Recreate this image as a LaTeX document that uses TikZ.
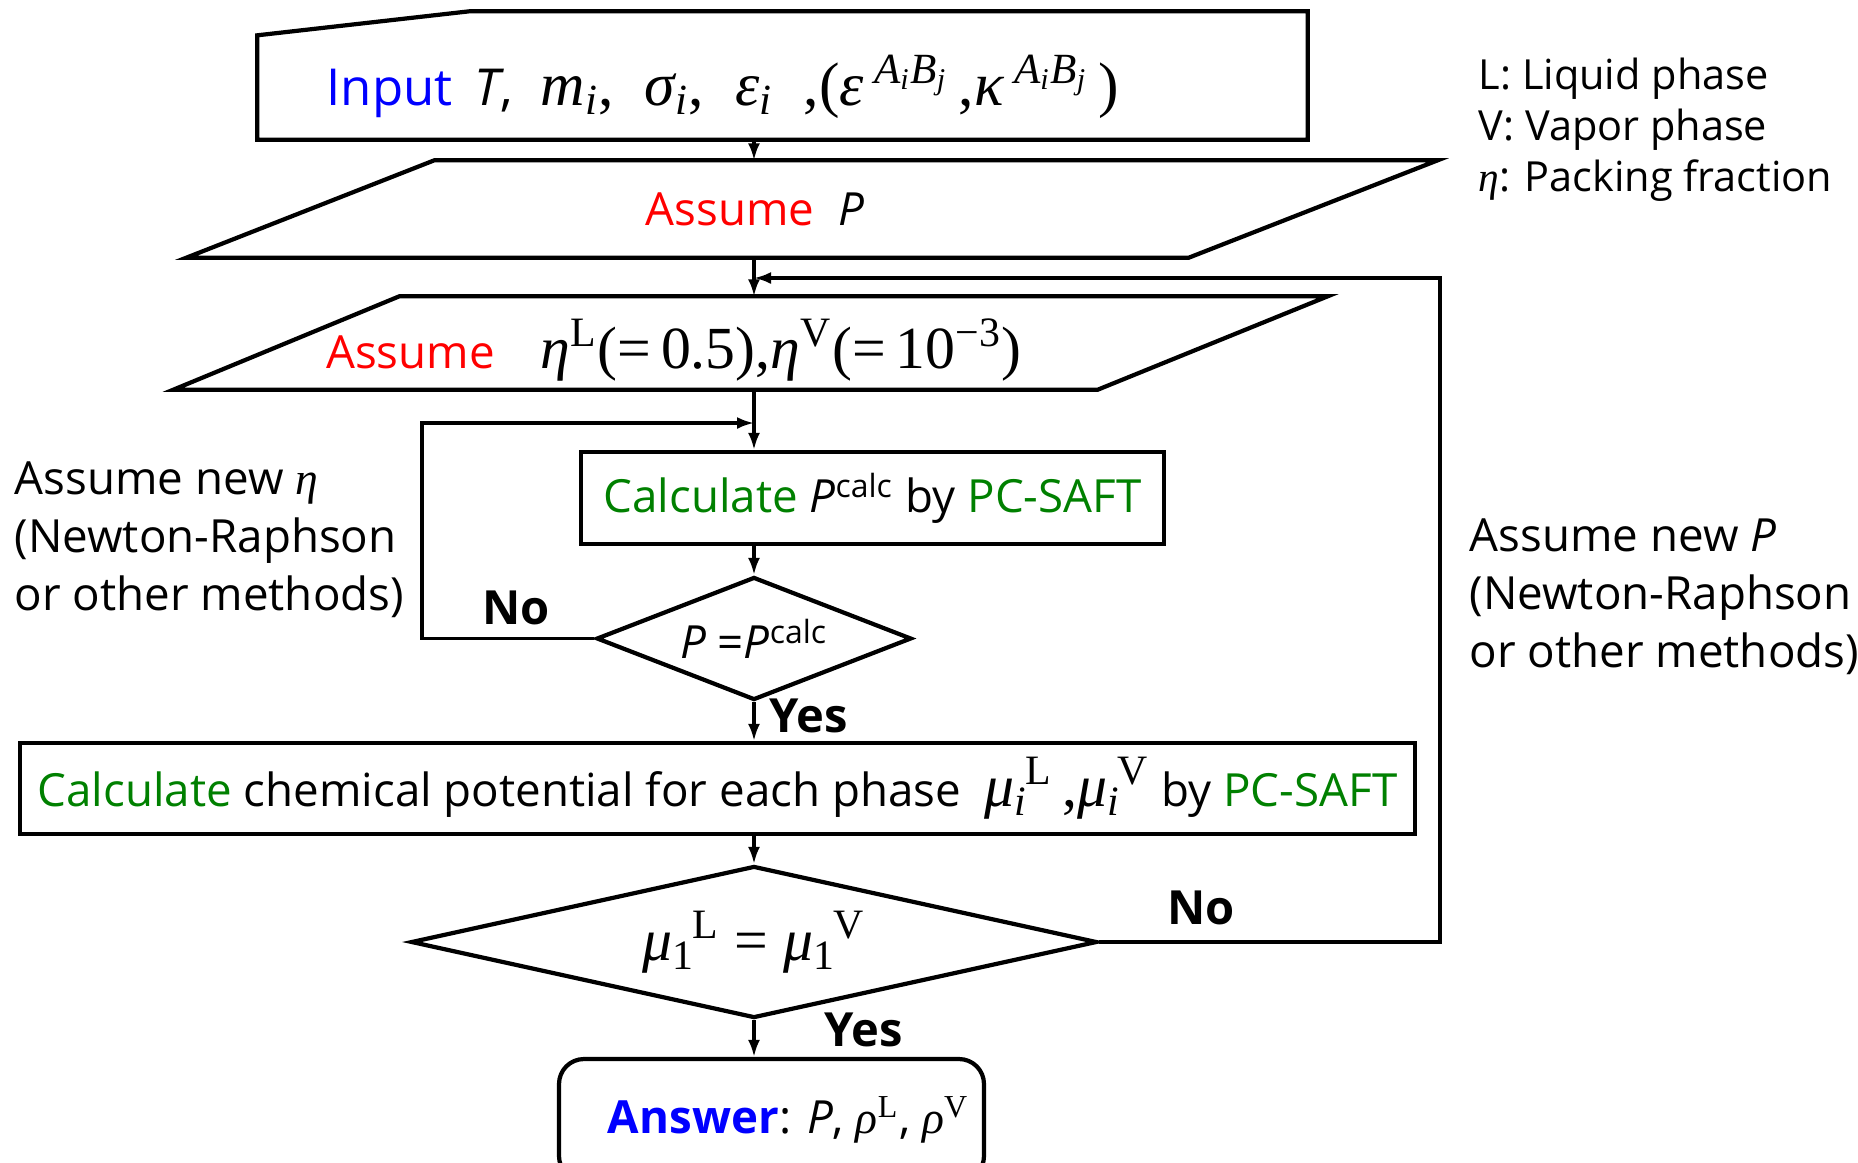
\documentclass[tikz,border=0pt]{standalone}
\usepackage{fontspec}
\setmainfont{Open Sans}
\newfontfamily\tms{Liberation Serif}
\usetikzlibrary{shapes.geometric,arrows.meta,positioning}

\definecolor{inblue}{RGB}{0,0,255}
\definecolor{asred}{RGB}{255,0,0}
\definecolor{calcgreen}{RGB}{0,128,0}

% math-like pieces in Times
\newcommand{\mi}[1]{{\itshape #1}}
\newcommand{\supsub}[2]{\textsubscript{#2}\kern-0.05em\textsuperscript{#1}}
\newcommand{\assoc}{\textsuperscript{\itshape A\textsubscript{i}B\textsubscript{j}}}
\newcommand{\bigmath}{\tms\fontsize{17}{20}\selectfont}

\tikzset{
  shapeline/.style={line width=1.2pt},
  conn/.style={line width=0.9pt},
  arr/.style={conn, -{Latex[length=0.17cm, width=0.12cm]}},
  txt/.style={inner sep=0pt, font=\fontsize{13}{16}\selectfont},
  frame/.style={rectangle, draw=none, inner sep=0pt},
  procbox/.style={rectangle, draw, shapeline, inner sep=0pt, font=\fontsize{13}{16}\selectfont},
  decision/.style={diamond, draw, shapeline, inner sep=0pt, font=\fontsize{13}{16}\selectfont},
  answerbox/.style={rectangle, rounded corners=0.25cm, draw, shapeline, inner sep=0pt, font=\fontsize{13}{16}\selectfont},
  yesno/.style={inner sep=0pt, font=\fontsize{13.4}{16}\selectfont\bfseries},
}

\begin{document}
\begin{tikzpicture}

\useasboundingbox (0,0) rectangle (18.58,-11.62);
\coordinate (spine) at (7.54,0);

% input
\node[frame, minimum width=10.49cm, minimum height=1.27cm] (inbox) at (7.825,-0.755) {};
\draw[shapeline] ([yshift=-0.24cm]inbox.north west) -- ([xshift=2.12cm]inbox.north west) -- (inbox.north east) -- (inbox.south east) -- (inbox.south west) -- cycle;
\node[txt, anchor=west] (intxt) at (3.26,-0.87) {{\fontsize{14.5}{18}\selectfont\textcolor{inblue}{Input}\hspace{0.22cm}\textit{T},}\hspace{0.28cm}{\tms\fontsize{17.5}{22}\selectfont\mi{m}\textsubscript{\itshape i},\ \ \mi{σ}\textsubscript{\itshape i},\ \ \mi{ε}\textsubscript{\itshape i}\ \ ,(\mi{ε}\,\assoc\,,\mi{κ}\,\assoc\,)}};

% assume P
\node[frame, minimum width=12.50cm, minimum height=0.96cm] (par1) at (8.12,-2.09) {};
\draw[shapeline] ([xshift=2.48cm]par1.north west) -- (par1.north east) -- ([xshift=-2.49cm]par1.south east) -- (par1.south west) -- cycle;
\node[txt] (par1txt) at (7.55,-2.09) {\textcolor{asred}{Assume}\ \ \textit{P}};

% assume eta
\node[frame, minimum width=11.53cm, minimum height=0.92cm] (par2) at (7.505,-3.43) {};
\draw[shapeline] ([xshift=2.26cm]par2.north west) -- (par2.north east) -- ([xshift=-2.30cm]par2.south east) -- (par2.south west) -- cycle;
\node[txt] (par2txt) at (6.74,-3.50) {\textcolor{asred}{Assume}\quad{\bigmath\mi{η}\textsuperscript{L}(=\,0.5),\mi{η}\textsuperscript{V}(=\,10\textsuperscript{−3})}};

\node[procbox, minimum width=5.83cm, minimum height=0.92cm] (calcp) at (8.725,-4.98) {\textcolor{calcgreen}{Calculate} \textit{P}\textsuperscript{calc} by \textcolor{calcgreen}{PC-SAFT}};
\node[decision, aspect=2.56, minimum width=3.15cm, minimum height=1.23cm] (chk1) at (7.54,-6.385) {\textit{P} =\textit{P}\textsuperscript{calc}};
\node[procbox, minimum width=13.95cm, minimum height=0.91cm] (calcmu) at (7.175,-7.885) {\textcolor{calcgreen}{Calculate} chemical potential for each phase \ {\bigmath\mi{μ}\supsub{L}{\itshape i}\,,\mi{μ}\supsub{V}{\itshape i}} by \textcolor{calcgreen}{PC-SAFT}};
\node[decision, aspect=4.5, minimum width=6.86cm, minimum height=1.52cm] (chk2) at (7.54,-9.42) {{\bigmath\mi{μ}\supsub{L}{1}\ = \mi{μ}\supsub{V}{1}}};
\node[answerbox, minimum width=4.25cm, minimum height=1.22cm] (answer) at (7.715,-11.20) {\hspace*{0.34cm}\textcolor{inblue}{\textbf{Answer}}: \textit{P}, {\tms\mi{ρ}\textsuperscript{L}}, {\tms\mi{ρ}\textsuperscript{V}}};

% main flow
\draw[arr] (inbox.south -| spine) -- (par1.north -| spine);
\draw[arr] (par1.south -| spine) -- (par2.north -| spine);
\draw[arr] (par2.south -| spine) -- (calcp.north -| spine);
\draw[arr] (calcp.south -| spine) -- (chk1.north);
\draw[arr] (chk1.south) -- (calcmu.north -| spine);
\draw[arr] (calcmu.south -| spine) -- (chk2.north);
\draw[arr] (chk2.south) -- (answer.north -| spine);

% loops
\coordinate (etaloop) at (4.22,-4.23);
\coordinate (ploop) at (14.40,-2.78);
\draw[arr] (chk1.west) -| (etaloop) -- (etaloop -| spine);
\draw[arr] (chk2.east) -| (ploop) -- (ploop -| spine);

\node[yesno] (no1) at (5.16,-6.08) {No};
\node[yesno] (yes1) at (8.09,-7.16) {Yes};
\node[yesno] (no2) at (12.01,-9.08) {No};
\node[yesno] (yes2) at (8.64,-10.30) {Yes};

% side notes
\node[txt, anchor=west, align=left, font=\fontsize{13}{16.5}\selectfont] (neweta) at (0.14,-5.40) {Assume new {\tms\itshape η}\\(Newton-Raphson\\or other methods)};
\node[txt, anchor=west, align=left, font=\fontsize{13}{16.5}\selectfont] (newp) at (14.69,-5.97) {Assume new \textit{P}\\(Newton-Raphson\\or other methods)};
\node[txt, anchor=west, align=left, font=\fontsize{11.8}{14.5}\selectfont] (legend) at (14.78,-1.30) {L: Liquid phase\\V: Vapor phase\\{\tms\itshape η}: Packing fraction};

\end{tikzpicture}
\end{document}
